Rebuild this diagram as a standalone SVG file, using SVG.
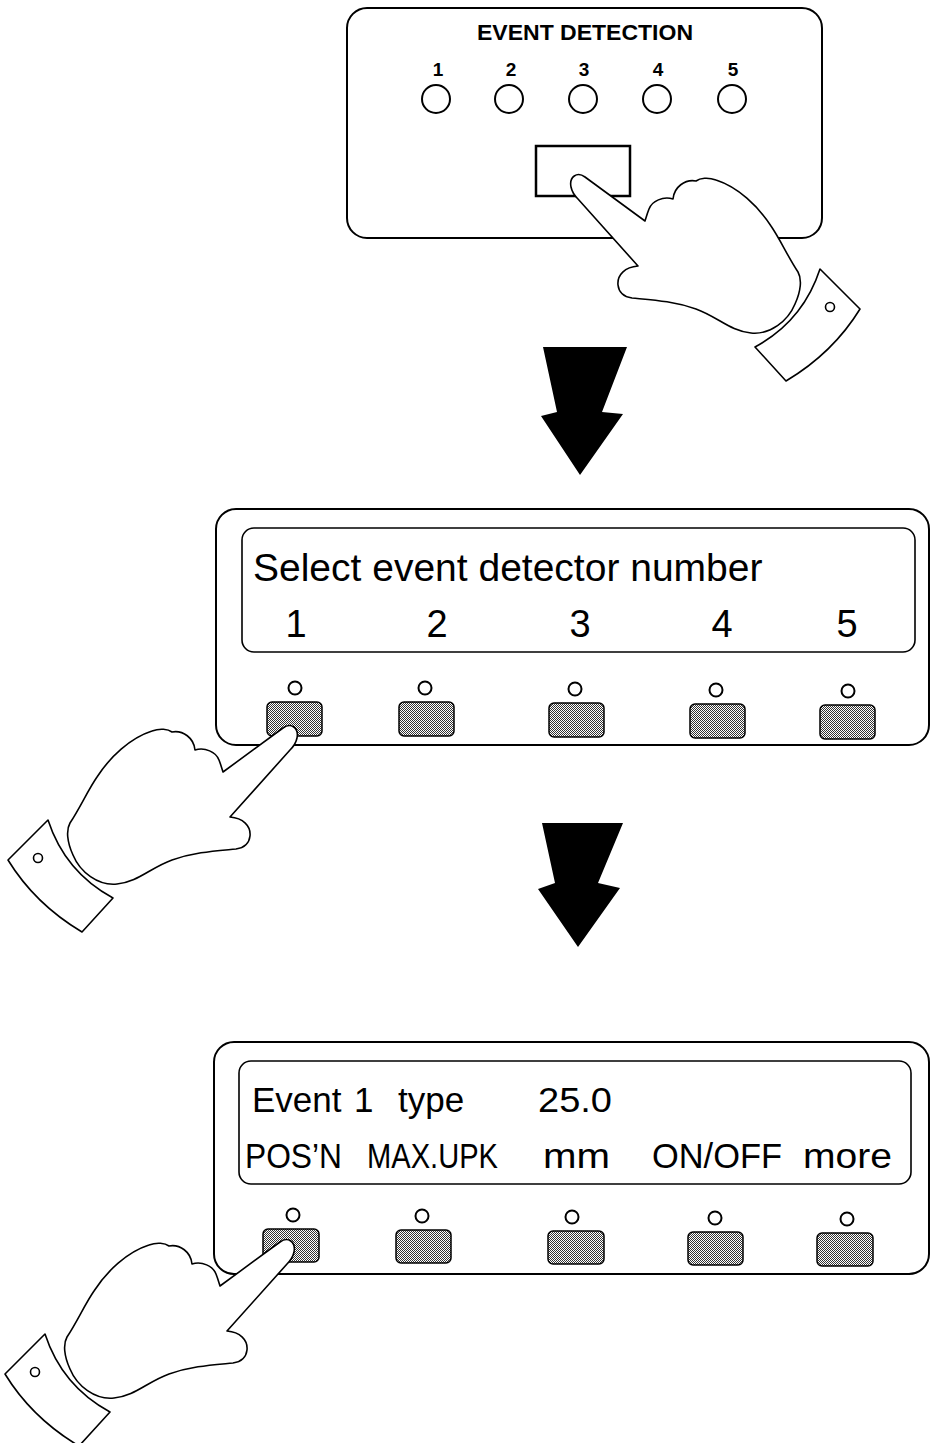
<svg xmlns="http://www.w3.org/2000/svg" xmlns:xlink="http://www.w3.org/1999/xlink" width="930" height="1443" viewBox="0 0 930 1443">
  <style>
    .panel { fill: none; stroke: #000; stroke-width: 2; }
    .disp { fill: none; stroke: #000; stroke-width: 1.6; }
    .key { fill: url(#dots); stroke: #000; stroke-width: 1.5; }
    .led { fill: #fff; stroke: #000; stroke-width: 2; }
    .bigled { fill: #fff; stroke: #000; stroke-width: 2; }
    .hand { fill: #fff; stroke: #000; stroke-width: 1.6; stroke-linejoin: round; }
    .arrow { fill: #000; stroke: none; }
    .bold { font-family: "Liberation Sans", Arial, sans-serif; font-weight: bold; fill: #000; }
    .lcd { font-family: "Liberation Sans", Arial, sans-serif; fill: #000; }
  </style>
  <defs>
    <pattern id="dots" width="2" height="2" patternUnits="userSpaceOnUse">
      <rect width="2" height="2" fill="#fff"/>
      <rect width="1" height="1" fill="#333"/>
      <rect x="1" y="1" width="1" height="1" fill="#333"/>
    </pattern>
    <!-- pointing hand with shirt cuff, index finger to the upper right -->
    <g id="hand">
      <path class="hand" d="M 223,772 L 283,728 C 291,722 299,728 297,738 C 296,743 293,747 290,750 L 230,817 C 243,818 251,826 250,836 C 249,845 243,848 236,849 C 215,851 195,852 172,860 C 150,868 138,882 117,884 C 98,886 80,872 73,855 C 67,842 66,830 70,823 C 80,808 88,790 97,777 C 110,757 130,738 152,731 C 160,728 168,729 172,732 C 183,730 194,738 195,750 C 205,747 216,752 219,760 C 221,765 222,769 223,772 Z"/>
      <path class="hand" d="M 48,820 Q 65,872 113,898 L 82,932 Q 35,904 8,860 Z"/>
      <circle class="hand" cx="38" cy="858" r="4.5"/>
    </g>
  </defs>

  <rect width="930" height="1443" fill="#fff"/>

  <!-- event detection key panel -->
  <g id="event-detection-panel">
    <rect class="panel" x="347" y="8" width="475" height="230" rx="20"/>
    <text class="bold" x="585" y="40" font-size="22" text-anchor="middle" textLength="216" lengthAdjust="spacingAndGlyphs">EVENT DETECTION</text>
    <g class="bold" font-size="19" text-anchor="middle">
      <text x="438" y="76">1</text>
      <text x="511" y="76">2</text>
      <text x="584" y="76">3</text>
      <text x="658" y="76">4</text>
      <text x="733" y="76">5</text>
    </g>
    <circle class="bigled" cx="436" cy="99" r="14"/>
    <circle class="bigled" cx="509" cy="99" r="14"/>
    <circle class="bigled" cx="583" cy="99" r="14"/>
    <circle class="bigled" cx="657" cy="99" r="14"/>
    <circle class="bigled" cx="732" cy="99" r="14"/>
    <rect x="536" y="146" width="94" height="50" fill="#fff" stroke="#000" stroke-width="2.5"/>
  </g>

  <!-- detector selection screen -->
  <g id="select-screen">
    <rect class="panel" x="216" y="509" width="713" height="236" rx="20"/>
    <rect class="disp" x="242" y="528" width="673" height="124" rx="12"/>
    <text class="lcd" x="253" y="581" font-size="39">Select event detector number</text>
    <g class="lcd" font-size="38" text-anchor="middle">
      <text x="296" y="637">1</text>
      <text x="437" y="637">2</text>
      <text x="580" y="637">3</text>
      <text x="722" y="637">4</text>
      <text x="847" y="637">5</text>
    </g>
    <circle class="led" cx="295" cy="688" r="6.5"/>
    <circle class="led" cx="425" cy="688" r="6.5"/>
    <circle class="led" cx="575" cy="689" r="6.5"/>
    <circle class="led" cx="716" cy="690" r="6.5"/>
    <circle class="led" cx="848" cy="691" r="6.5"/>
    <rect class="key" x="267" y="702" width="55" height="34" rx="5"/>
    <rect class="key" x="399" y="702" width="55" height="34" rx="5"/>
    <rect class="key" x="549" y="703" width="55" height="34" rx="5"/>
    <rect class="key" x="690" y="704" width="55" height="34" rx="5"/>
    <rect class="key" x="820" y="705" width="55" height="34" rx="5"/>
  </g>

  <!-- event type screen -->
  <g id="event-screen">
    <rect class="panel" x="214" y="1042" width="715" height="232" rx="20"/>
    <rect class="disp" x="239" y="1061" width="672" height="123" rx="12"/>
    <g class="lcd" font-size="35">
      <text x="252" y="1112">Event</text>
      <text x="354" y="1112">1</text>
      <text x="398" y="1112">type</text>
      <text x="538" y="1112" textLength="74" lengthAdjust="spacingAndGlyphs">25.0</text>
      <text x="245" y="1168" textLength="97" lengthAdjust="spacingAndGlyphs">POS’N</text>
      <text x="367" y="1168" textLength="131" lengthAdjust="spacingAndGlyphs">MAX.UPK</text>
      <text x="543" y="1168" textLength="67" lengthAdjust="spacingAndGlyphs">mm</text>
      <text x="652" y="1168" textLength="130" lengthAdjust="spacingAndGlyphs">ON/OFF</text>
      <text x="803" y="1168" textLength="89" lengthAdjust="spacingAndGlyphs">more</text>
    </g>
    <circle class="led" cx="293" cy="1215" r="6.5"/>
    <circle class="led" cx="422" cy="1216" r="6.5"/>
    <circle class="led" cx="572" cy="1217" r="6.5"/>
    <circle class="led" cx="715" cy="1218" r="6.5"/>
    <circle class="led" cx="847" cy="1219" r="6.5"/>
    <rect class="key" x="263" y="1229" width="56" height="33" rx="5"/>
    <rect class="key" x="396" y="1230" width="55" height="33" rx="5"/>
    <rect class="key" x="548" y="1231" width="56" height="33" rx="5"/>
    <rect class="key" x="688" y="1232" width="55" height="33" rx="5"/>
    <rect class="key" x="817" y="1233" width="56" height="33" rx="5"/>
  </g>

  <!-- step arrows -->
  <g id="connectors">
    <polygon class="arrow" points="543,347 627,347 602,412 623,414 580,475 541,416 557,412"/>
    <polygon class="arrow" points="542,823 623,823 598,883 620,888 578,947 538,889 555,883"/>
  </g>

  <!-- hands pressing keys -->
  <g id="hand-top">
    <use xlink:href="#hand" transform="translate(868,-551) scale(-1,1)"/>
  </g>
  <g id="hand-middle">
    <use xlink:href="#hand"/>
  </g>
  <g id="hand-bottom">
    <use xlink:href="#hand" transform="translate(-3,514)"/>
  </g>
</svg>
